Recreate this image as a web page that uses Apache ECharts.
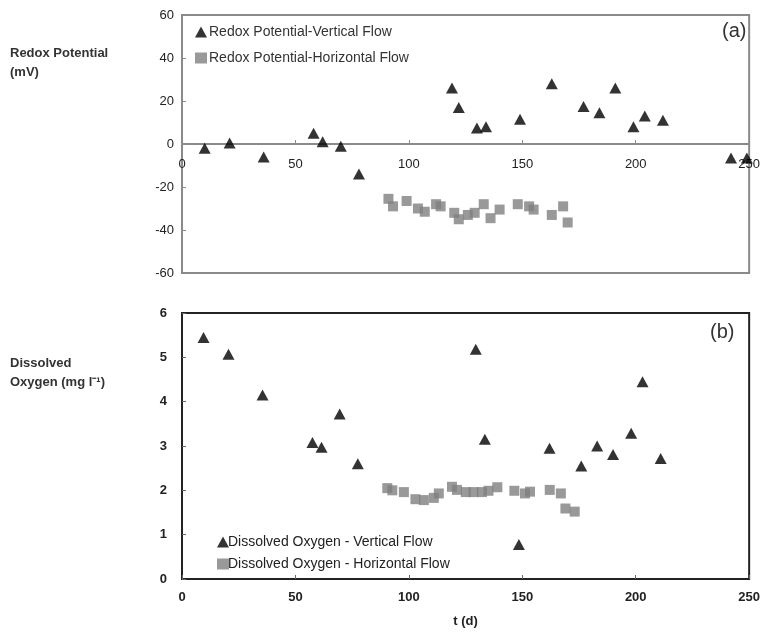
<!DOCTYPE html>
<html>
<head>
<meta charset="utf-8">
<script src="https://cdn.jsdelivr.net/npm/echarts@6/dist/echarts.min.js"></script>
<style>
  html, body { margin: 0; background: #fff; }
  #chart { width: 763px; height: 632px; }
</style>
</head>
<body>
<div id="chart"></div>
<script>
// (a) redox potential (mV)
const redoxVertDays = [10, 21, 36, 58, 62, 70, 78, 119, 122, 130, 134, 149, 163, 177, 184, 191, 199, 204, 212, 242, 249]
const redoxVertMv = [-2, 0.5, -6, 5, 1, -1, -14, 26, 17, 7.5, 8, 11.5, 28, 17.5, 14.5, 26, 8, 13, 11, -6.5, -6.5]
const redoxHorizDays = [91, 93, 99, 104, 107, 112, 114, 120, 122, 126, 129, 133, 136, 140, 148, 153, 155, 163, 168, 170]
const redoxHorizMv = [-25.5, -29, -26.5, -30, -31.5, -28, -29, -32, -35, -33, -32, -28, -34.5, -30.5, -28, -29, -30.5, -33, -29, -36.5]

// (b) dissolved oxygen (mg/l)
const doVertDays = [9.5, 20.5, 35.5, 57.5, 61.5, 69.5, 77.5, 129.5, 133.5, 148.5, 162, 176, 183, 190, 198, 203, 211]
const doVertMg = [5.45, 5.07, 4.15, 3.08, 2.97, 3.72, 2.6, 5.18, 3.15, 0.78, 2.95, 2.55, 3.0, 2.81, 3.29, 4.45, 2.72]
const doHorizDays = [90.5, 92.7, 97.8, 102.9, 106.6, 111, 113.2, 119, 121.2, 125.1, 128.5, 132.2, 135.1, 139, 146.5, 151.2, 153.4, 162.1, 167, 169, 173.1]
const doHorizMg = [2.05, 2.0, 1.96, 1.8, 1.78, 1.83, 1.93, 2.08, 2.01, 1.96, 1.96, 1.96, 1.99, 2.07, 1.99, 1.93, 1.97, 2.01, 1.93, 1.59, 1.52]

const zip = (xs, ys) => xs.map((x, i) => [x, ys[i]])

const chart = echarts.init(document.getElementById('chart'))

const tickLabel = { color: '#222', fontSize: 13, fontFamily: 'Liberation Sans' }

chart.setOption({
  animation: false,
  grid: [
    { left: 182, top: 15, width: 570, height: 258, show: true, borderColor: '#8a8a8a', borderWidth: 2, backgroundColor: 'transparent' },
    { left: 182, top: 313, width: 568, height: 266, show: true, borderColor: '#222', borderWidth: 2, backgroundColor: 'transparent' }
  ],
  xAxis: [
    {
      gridIndex: 0, type: 'value', min: 0, max: 250, interval: 50,
      axisLine: { onZero: true, lineStyle: { color: '#8a8a8a', width: 2 } },
      axisTick: { inside: true, length: 4, lineStyle: { color: '#8a8a8a' } },
      // labels sit just under the zero line, not under the frame
      axisLabel: Object.assign({ margin: -115 }, tickLabel),
      splitLine: { show: false }
    },
    {
      gridIndex: 1, type: 'value', min: 0, max: 250, interval: 50,
      axisLine: { lineStyle: { color: '#222', width: 2 } },
      axisTick: { inside: true, length: 4, lineStyle: { color: '#666' } },
      axisLabel: Object.assign({ margin: 12, fontWeight: 'bold' }, tickLabel),
      splitLine: { show: false },
      name: 't (d)', nameLocation: 'middle', nameGap: 36,
      nameTextStyle: { color: '#222', fontSize: 13, fontWeight: 'bold', fontFamily: 'Liberation Sans' }
    }
  ],
  yAxis: [
    {
      gridIndex: 0, type: 'value', min: -60, max: 60, interval: 20,
      axisLine: { show: true, lineStyle: { color: '#8a8a8a', width: 2 } },
      axisTick: { inside: true, length: 4, lineStyle: { color: '#8a8a8a' } },
      axisLabel: Object.assign({ margin: 8 }, tickLabel),
      splitLine: { show: false }
    },
    {
      gridIndex: 1, type: 'value', min: 0, max: 6, interval: 1,
      axisLine: { show: true, lineStyle: { color: '#222', width: 2 } },
      axisTick: { inside: true, length: 4, lineStyle: { color: '#666' } },
      axisLabel: Object.assign({ margin: 15, fontWeight: 'bold' }, tickLabel),
      splitLine: { show: false }
    }
  ],
  legend: [
    {
      data: [
        { name: 'Redox Potential-Vertical Flow', icon: 'triangle' },
        { name: 'Redox Potential-Horizontal Flow', icon: 'rect' }
      ],
      left: 190, top: 20, orient: 'vertical', itemGap: 12, itemWidth: 12, itemHeight: 11,
      textStyle: { color: '#333', fontSize: 14, fontFamily: 'Liberation Sans', padding: [0, 0, 0, -3] }
    },
    {
      data: [
        { name: 'Dissolved Oxygen - Vertical Flow', icon: 'triangle' },
        { name: 'Dissolved Oxygen - Horizontal Flow', icon: 'rect' }
      ],
      left: 212, top: 530, orient: 'vertical', itemGap: 8, itemWidth: 12, itemHeight: 11,
      textStyle: { color: '#222', fontSize: 14, fontFamily: 'Liberation Sans', padding: [0, 0, 0, -6] }
    }
  ],
  graphic: [
    { type: 'text', left: 10, top: 44, style: { text: 'Redox Potential\n(mV)', fill: '#333', font: 'bold 13px Liberation Sans', lineHeight: 19 } },
    { type: 'text', left: 10, top: 354, style: { text: 'Dissolved\nOxygen (mg l⁻¹)', fill: '#333', font: 'bold 13px Liberation Sans', lineHeight: 19 } },
    { type: 'text', left: 722, top: 21, style: { text: '(a)', fill: '#333', font: '20px Liberation Sans' } },
    { type: 'text', left: 710, top: 322, style: { text: '(b)', fill: '#333', font: '20px Liberation Sans' } }
  ],
  series: [
    {
      name: 'Redox Potential-Vertical Flow', type: 'scatter', xAxisIndex: 0, yAxisIndex: 0,
      symbol: 'triangle', symbolSize: [12, 11], itemStyle: { color: '#000' },
      data: zip(redoxVertDays, redoxVertMv)
    },
    {
      name: 'Redox Potential-Horizontal Flow', type: 'scatter', xAxisIndex: 0, yAxisIndex: 0,
      symbol: 'rect', symbolSize: 10, itemStyle: { color: '#808080' },
      data: zip(redoxHorizDays, redoxHorizMv)
    },
    {
      name: 'Dissolved Oxygen - Vertical Flow', type: 'scatter', xAxisIndex: 1, yAxisIndex: 1,
      symbol: 'triangle', symbolSize: [12, 11], itemStyle: { color: '#000' },
      data: zip(doVertDays, doVertMg)
    },
    {
      name: 'Dissolved Oxygen - Horizontal Flow', type: 'scatter', xAxisIndex: 1, yAxisIndex: 1,
      symbol: 'rect', symbolSize: 10, itemStyle: { color: '#808080' },
      data: zip(doHorizDays, doHorizMg)
    }
  ]
})
</script>
</body>
</html>
